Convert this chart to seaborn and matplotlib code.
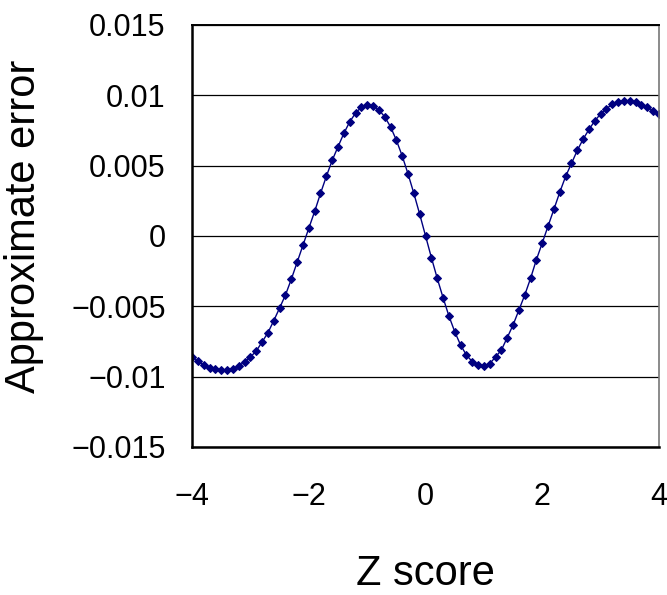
import matplotlib
matplotlib.use("Agg")
import matplotlib.pyplot as plt
import seaborn as sns
import numpy as np
import pandas as pd

# Z scores from -4 to 4 in steps of 0.1
z_score = np.round(np.arange(-40, 41) / 10, 1)

# approximate error, one value per z
approx_error = [
    -0.00861, -0.00892, -0.00918, -0.00939, -0.00949, -0.00956, -0.00954, -0.00944, -0.00925, -0.00894,
    -0.00861, -0.00818, -0.00754, -0.00688, -0.00602, -0.00512, -0.00420, -0.00308, -0.00187, -0.00066,
    0.00055, 0.00174, 0.00302, 0.00423, 0.00537, 0.00634, 0.00729, 0.00811, 0.00873, 0.00916,
    0.00932, 0.00925, 0.00897, 0.00847, 0.00776, 0.00681, 0.00569, 0.00441, 0.00302, 0.00154,
    0.00000, -0.00154, -0.00301, -0.00439, -0.00569, -0.00681, -0.00776, -0.00847, -0.00894, -0.00920,
    -0.00925, -0.00908, -0.00861, -0.00811, -0.00723, -0.00633, -0.00527, -0.00420, -0.00301, -0.00168,
    -0.00050, 0.00071, 0.00190, 0.00311, 0.00423, 0.00515, 0.00608, 0.00688, 0.00757, 0.00818,
    0.00868, 0.00906, 0.00935, 0.00954, 0.00961, 0.00959, 0.00949, 0.00932, 0.00914, 0.00890,
    0.00868,
]

y_ticks = [-0.015, -0.01, -0.005, 0, 0.005, 0.01, 0.015]
y_tick_labels = ["\u22120.015", "\u22120.01", "\u22120.005", "0", "0.005", "0.01", "0.015"]
x_ticks = [-4, -2, 0, 2, 4]
x_tick_labels = ["\u22124", "\u22122", "0", "2", "4"]

df = pd.DataFrame({"Z score": z_score, "Approximate error": approx_error})

sns.set_style("white")
plt.rcParams["font.family"] = ["Liberation Sans", "DejaVu Sans"]
plt.rcParams["text.color"] = "black"
plt.rcParams["axes.labelcolor"] = "black"
plt.rcParams["xtick.color"] = "black"
plt.rcParams["ytick.color"] = "black"

fig = plt.figure(figsize=(6.67, 5.95), dpi=100)
ax = fig.add_axes([0.288, 0.249, 0.7, 0.709])

sns.lineplot(data=df, x="Z score", y="Approximate error", ax=ax,
             color="#000080", linewidth=1.0, marker="D", markersize=4.5,
             markeredgecolor="#000080")

ax.set_xlim(-4, 4)
ax.set_ylim(-0.015, 0.015)
ax.set_yticks(y_ticks)
ax.set_yticklabels(y_tick_labels, fontsize=22)
ax.set_xticks(x_ticks)
ax.set_xticklabels(x_tick_labels, fontsize=22)

ax.grid(axis="y", color="black", linewidth=0.9)
ax.grid(axis="x", visible=False)
ax.set_axisbelow(True)

ax.tick_params(axis="x", direction="in", length=8, width=1, pad=25, color="black")
ax.tick_params(axis="y", length=0, pad=19)

for side in ["left", "bottom"]:
    ax.spines[side].set_color("black")
    ax.spines[side].set_linewidth(1.8)
ax.spines["top"].set_color("black")
ax.spines["top"].set_linewidth(1.4)
ax.spines["right"].set_color("#777777")
ax.spines["right"].set_linewidth(1.2)

ax.set_xlabel("Z score", fontsize=30)
ax.set_ylabel("Approximate error", fontsize=30)
ax.xaxis.set_label_coords(0.5, -0.255)
ax.yaxis.set_label_coords(-0.318, 0.522)

fig.savefig("out.png", dpi=100)
